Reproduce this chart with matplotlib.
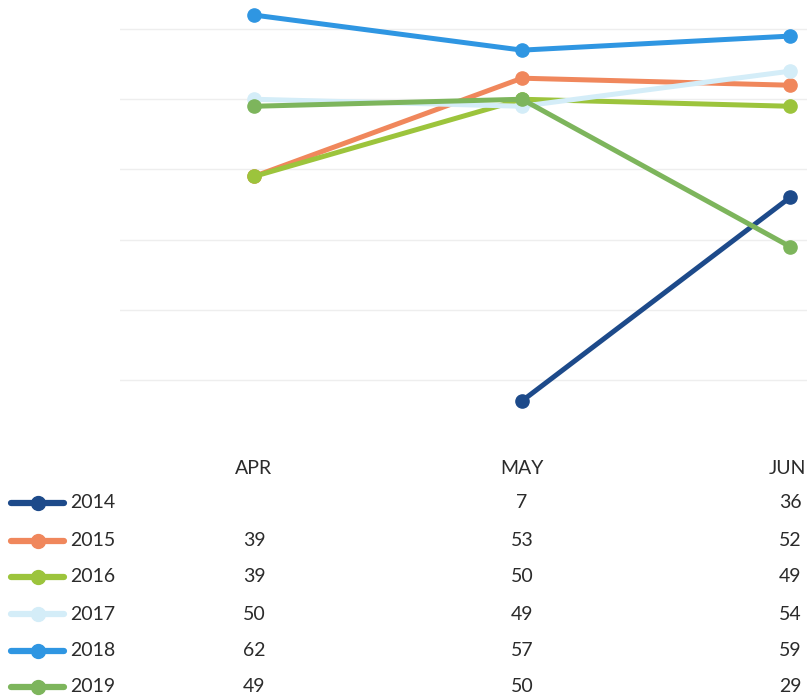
import matplotlib.pyplot as plt
from matplotlib.lines import Line2D
from matplotlib.transforms import blended_transform_factory, offset_copy
import numpy as np

months = ["APR", "MAY", "JUN"]
years = ["2014", "2015", "2016", "2017", "2018", "2019"]
v2014 = [np.nan, 7, 36]
v2015 = [39, 53, 52]
v2016 = [39, 50, 49]
v2017 = [50, 49, 54]
v2018 = [62, 57, 59]
v2019 = [49, 50, 29]
series = [v2014, v2015, v2016, v2017, v2018, v2019]
colors = ["#1d4a8a", "#f0875c", "#9cc43c", "#d4edf8", "#2f96e2", "#7db55c"]
gridlines = [10, 20, 30, 40, 50, 60]

plt.rcParams['font.family'] = ['Lato', 'DejaVu Sans']

W, H = 807, 698
fig = plt.figure(figsize=(W / 100, H / 100), dpi=100)

# plot area is cropped on the right and top, like the source image
ax = fig.add_axes([120 / W, 1 - 415 / H, 804 / W, (415 + 6) / H])
ax.set_xlim(-0.5, 2.5)
ax.set_ylim(5, 65)
ax.set_yticks(gridlines)
ax.grid(axis='y', color='#eeeeee', lw=1)
ax.set_axisbelow(True)
ax.tick_params(left=False, bottom=False, labelleft=False, labelbottom=False)
for s in ax.spines.values():
    s.set_visible(False)

x = np.arange(len(months))
for vals, c in zip(series, colors):
    ax.plot(x, vals, color=c, lw=3.6, marker='o', ms=9.5, solid_capstyle='round')

# data table under the chart
def fy(py):
    return 1 - py / H

tr = blended_transform_factory(ax.transData, fig.transFigure)
header_y = 469
row_ys = [503, 541, 577, 614, 651, 687]
txt = '#2b2b2b'
fs = 14
headers = []
for i, m in enumerate(months):
    headers.append(ax.text(i, fy(header_y), m, transform=tr, ha='center', va='center',
                           fontsize=fs, color=txt, clip_on=False))

for yr, vals, c, py in zip(years, series, colors, row_ys):
    fig.add_artist(Line2D([11 / W, 64 / W], [fy(py), fy(py)], color=c, lw=4.5,
                          solid_capstyle='round', transform=fig.transFigure))
    fig.add_artist(Line2D([38 / W], [fy(py)], color=c, marker='o', ms=10,
                          transform=fig.transFigure))
    fig.text(70 / W, fy(py), yr, ha='left', va='center', fontsize=fs, color=txt)
    for i, v in enumerate(vals):
        if np.isnan(v):
            continue
        ax.text(i, fy(py), str(int(v)), transform=tr, ha='center', va='center',
                fontsize=fs, color=txt, clip_on=False)

# keep the last header inside the (cropped) figure
r = fig.canvas.get_renderer()
for t in headers:
    over = t.get_window_extent(r).x1 - (W - 1)
    if over > 0:
        t.set_transform(offset_copy(tr, fig=fig, x=-over, units='dots'))

fig.savefig("out.png", dpi=100)
